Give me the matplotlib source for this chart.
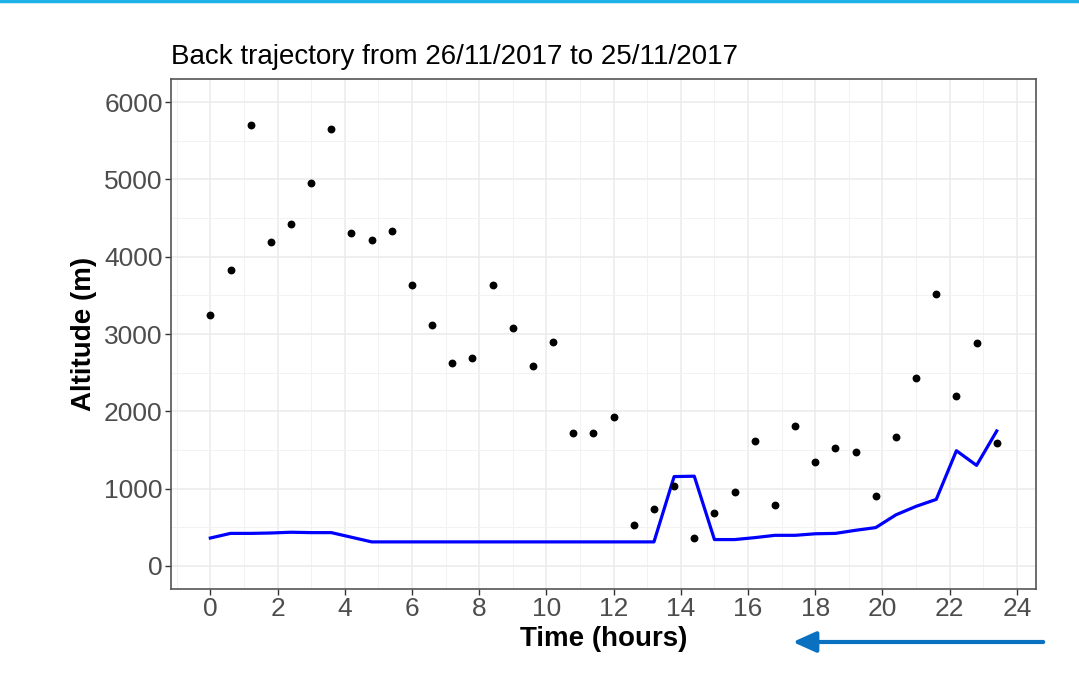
import numpy as np
import matplotlib
matplotlib.use("Agg")
import matplotlib.pyplot as plt
from matplotlib.ticker import MultipleLocator

plt.rcParams['font.family'] = ['Liberation Sans', 'DejaVu Sans']

# Tiempo (horas) de cada punto de la trayectoria
time_h = [0.0, 0.6, 1.2, 1.8, 2.4, 3.0, 3.6, 4.2, 4.8, 5.4,
          6.0, 6.6, 7.2, 7.8, 8.4, 9.0, 9.6, 10.2, 10.8, 11.4,
          12.0, 12.6, 13.2, 13.8, 14.4, 15.0, 15.6, 16.2, 16.8, 17.4,
          18.0, 18.6, 19.2, 19.8, 20.4, 21.0, 21.6, 22.2, 22.8, 23.4]

# Altitud de la trayectoria (puntos negros)
altitude = [3250, 3830, 5710, 4190, 4420, 4960, 5650, 4310, 4220, 4330,
            3630, 3110, 2625, 2690, 3640, 3075, 2585, 2895, 1725, 1725,
            1925, 525, 730, 1030, 360, 680, 950, 1620, 785, 1810,
            1350, 1530, 1475, 900, 1670, 2430, 3515, 2200, 2880, 1595]

# Altura de la capa de mezcla (línea azul)
mixing = [360, 420, 420, 425, 435, 430, 430, 370, 310, 310,
          310, 310, 310, 310, 310, 310, 310, 310, 310, 310,
          310, 310, 310, 1155, 1160, 340, 340, 365, 395, 395,
          415, 420, 460, 495, 660, 770, 860, 1490, 1300, 1745]

title = "Back trajectory from 26/11/2017 to 25/11/2017"

fig = plt.figure(figsize=(10.79, 6.79), dpi=100)
ax = fig.add_axes([0.1585, 0.1325, 0.8017, 0.7512])

ax.plot(time_h, mixing, color='#0000FF', lw=2.3, zorder=3)
ax.scatter(time_h, altitude, s=32, color='black', zorder=4, linewidths=0)

ax.set_xlim(-1.17, 24.57)
ax.set_ylim(-300, 6300)
ax.xaxis.set_major_locator(MultipleLocator(2))
ax.xaxis.set_minor_locator(MultipleLocator(1))
ax.yaxis.set_major_locator(MultipleLocator(1000))
ax.yaxis.set_minor_locator(MultipleLocator(500))

ax.grid(which='major', color='#EBEBEB', lw=1.1, zorder=0)
ax.grid(which='minor', color='#F2F2F2', lw=0.7, zorder=0)
ax.set_axisbelow(True)

for s in ax.spines.values():
    s.set_color('#555555')
    s.set_linewidth(1.2)

ax.tick_params(which='major', length=4, width=1.0, color='#333333',
               labelsize=19, labelcolor='#4D4D4D', pad=2)
ax.tick_params(which='minor', length=0)

ax.set_xlabel("Time (hours)", fontsize=20, fontweight='bold', labelpad=3)
ax.set_ylabel("Altitude (m)", fontsize=20, fontweight='bold', labelpad=5)
ax.set_title(title, fontsize=20, loc='left', pad=11)

# Línea superior y flecha decorativa
fig.add_artist(plt.Line2D([0, 1], [0.9985, 0.9985], color='#1FB1E8', lw=2.5,
                          transform=fig.transFigure))
fig.add_artist(matplotlib.patches.FancyArrowPatch(
    (1046 / 1079, 1 - 642 / 679), (790 / 1079, 1 - 642 / 679),
    transform=fig.transFigure, arrowstyle='-|>,head_length=1.0,head_width=0.45',
    mutation_scale=14, color='#0A70C0', lw=3))

fig.savefig("out.png", dpi=100)
